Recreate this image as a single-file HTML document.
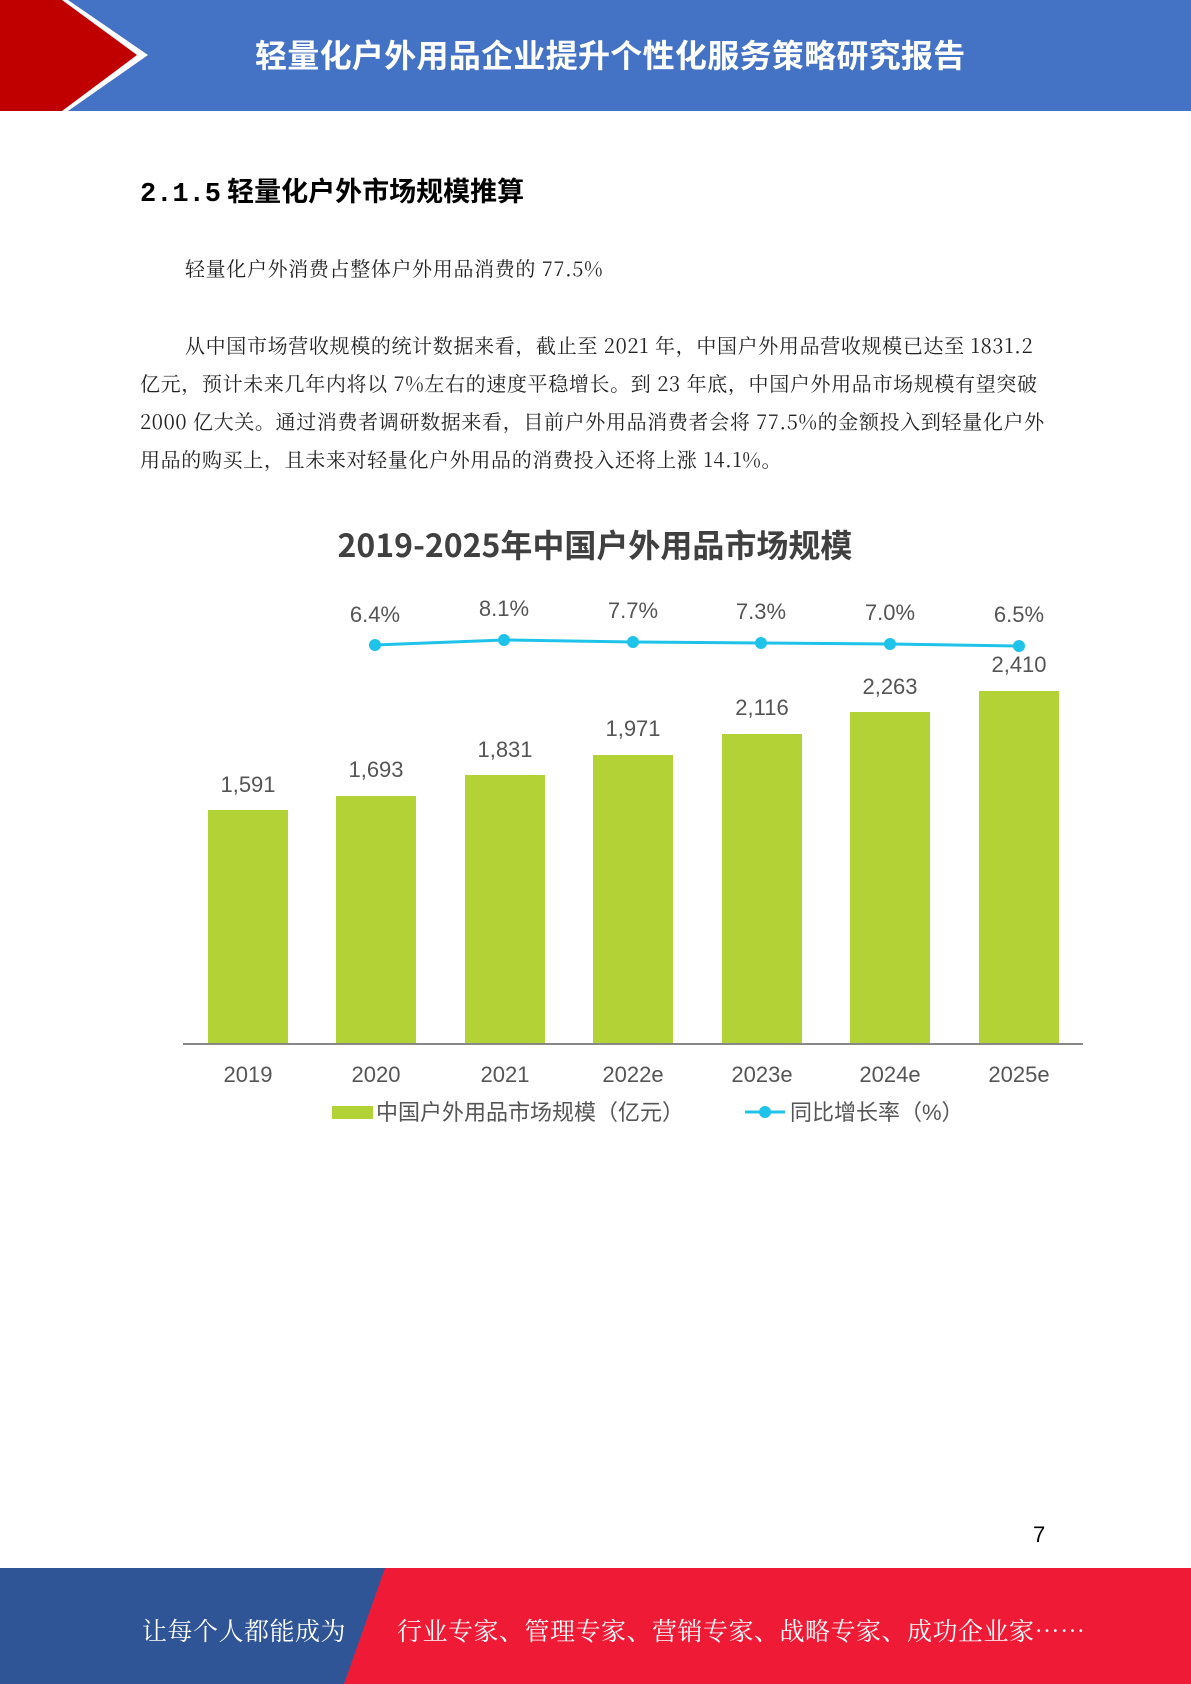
<!DOCTYPE html>
<html><head><meta charset="utf-8"><style>
body{margin:0;width:1191px;height:1684px;position:relative;background:#fff;overflow:hidden;font-family:"Liberation Sans","Noto Sans CJK SC",sans-serif}
.a{position:absolute;white-space:nowrap}
.p{font-family:"Noto Serif CJK SC","Liberation Serif",serif;font-size:20px;color:#222;line-height:1;letter-spacing:0.65px}
</style></head><body>
<svg class="a" style="left:0;top:0" width="1191" height="111">
<rect width="1191" height="111" fill="#4472c4"/>
<polygon points="0,0 68,0 148,55 68,111 0,111" fill="#fff"/>
<polygon points="0,0 62,0 137,55 62,111 0,111" fill="#c00000"/>
</svg>
<div class="a" style="left:255px;top:31px;font-size:32px;font-weight:bold;color:#fff;font-family:'Noto Sans CJK SC',sans-serif;letter-spacing:0.3px">轻量化户外用品企业提升个性化服务策略研究报告</div>
<div class="a" style="left:140px;top:170px;font-size:27px;font-weight:bold;color:#000;font-family:'Noto Sans CJK SC',sans-serif"><span style="font-family:'Liberation Mono',monospace">2.1.5</span> 轻量化户外市场规模推算</div>
<div class="a p" style="left:185px;top:258px">轻量化户外消费占整体户外用品消费的 77.5%</div>
<div class="a p" style="left:185px;top:335px">从中国市场营收规模的统计数据来看，截止至 2021 年，中国户外用品营收规模已达至 1831.2</div>
<div class="a p" style="left:140px;top:373px">亿元，预计未来几年内将以 7%左右的速度平稳增长。到 23 年底，中国户外用品市场规模有望突破</div>
<div class="a p" style="left:140px;top:411px">2000 亿大关。通过消费者调研数据来看，目前户外用品消费者会将 77.5%的金额投入到轻量化户外</div>
<div class="a p" style="left:140px;top:449px">用品的购买上，且未来对轻量化户外用品的消费投入还将上涨 14.1%。</div>
<svg class="a" style="left:0;top:500px" width="1191" height="640" font-family="Liberation Sans, Noto Sans CJK SC, sans-serif">
<text x="595" y="57" text-anchor="middle" font-size="32" font-weight="bold" fill="#404040" font-family="Noto Sans CJK SC, sans-serif">2019-2025年中国户外用品市场规模</text>
<g fill="#b2d235">
<rect x="208" y="310" width="80" height="234"/>
<rect x="336" y="296" width="80" height="248"/>
<rect x="465" y="275" width="80" height="269"/>
<rect x="593" y="255" width="80" height="289"/>
<rect x="722" y="234" width="80" height="310"/>
<rect x="850" y="212" width="80" height="332"/>
<rect x="979" y="191" width="80" height="353"/>
</g>
<line x1="183" y1="544" x2="1083" y2="544" stroke="#888" stroke-width="2"/>
<g font-size="22" fill="#555" text-anchor="middle">
<text x="248" y="292">1,591</text><text x="376" y="277">1,693</text><text x="505" y="257">1,831</text><text x="633" y="236">1,971</text><text x="762" y="215">2,116</text><text x="890" y="194">2,263</text><text x="1019" y="172">2,410</text>
<text x="375" y="122">6.4%</text><text x="504" y="116">8.1%</text><text x="633" y="118">7.7%</text><text x="761" y="119">7.3%</text><text x="890" y="120">7.0%</text><text x="1019" y="122">6.5%</text>
<text x="248" y="582">2019</text><text x="376" y="582">2020</text><text x="505" y="582">2021</text><text x="633" y="582">2022e</text><text x="762" y="582">2023e</text><text x="890" y="582">2024e</text><text x="1019" y="582">2025e</text>
</g>
<polyline points="375,145 504,140 633,142 761,143 890,144 1019,146" fill="none" stroke="#1fc3ea" stroke-width="3"/>
<g fill="#1fc3ea"><circle cx="375" cy="145" r="6"/><circle cx="504" cy="140" r="6"/><circle cx="633" cy="142" r="6"/><circle cx="761" cy="143" r="6"/><circle cx="890" cy="144" r="6"/><circle cx="1019" cy="146" r="6"/></g>
<rect x="332" y="606" width="41" height="13" fill="#b2d235"/>
<text x="376" y="620" font-size="22" fill="#555">中国户外用品市场规模（亿元）</text>
<line x1="745" y1="612" x2="785" y2="612" stroke="#1fc3ea" stroke-width="3"/><circle cx="765" cy="612" r="6" fill="#1fc3ea"/>
<text x="790" y="620" font-size="22" fill="#555">同比增长率（%）</text>
</svg>
<div class="a" style="left:1033px;top:1522px;font-size:22px;color:#000">7</div>
<svg class="a" style="left:0;top:1568px" width="1191" height="116">
<rect width="1191" height="116" fill="#ef1b36"/>
<polygon points="0,0 385,0 344,116 0,116" fill="#2f5597"/>
</svg>
<div class="a" style="left:142px;top:1612px;font-size:25px;color:#fff;font-family:'Noto Serif CJK SC',serif;letter-spacing:0.5px">让每个人都能成为</div>
<div class="a" style="left:397px;top:1612px;font-size:25px;color:#fff;font-family:'Noto Serif CJK SC',serif;letter-spacing:0.5px">行业专家、管理专家、营销专家、战略专家、成功企业家……</div>
</body></html>
